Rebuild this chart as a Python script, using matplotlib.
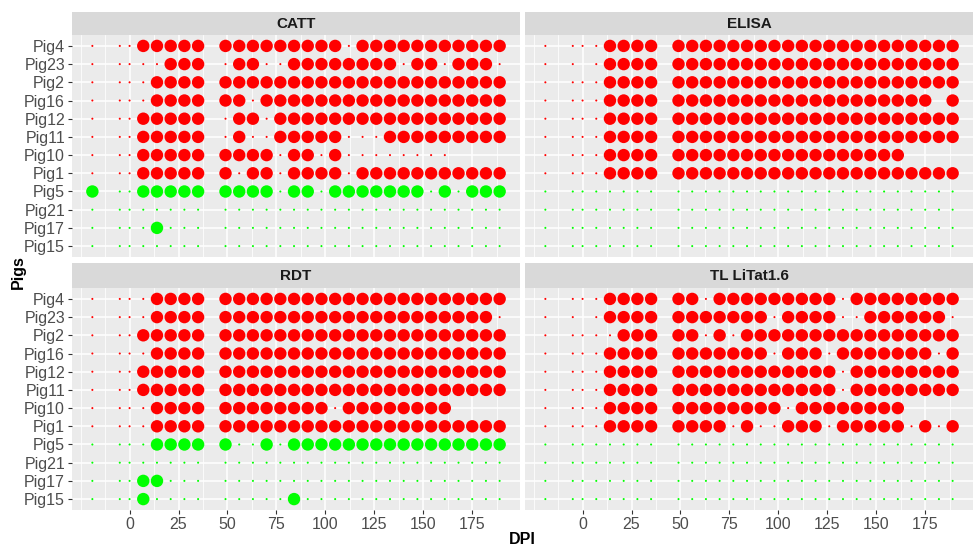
import matplotlib
matplotlib.use("Agg")
import matplotlib.pyplot as plt
from matplotlib.ticker import FixedLocator

plt.rcParams['font.family'] = ['Liberation Sans', 'DejaVu Sans']

# sampling days (DPI)
days = [-19, -5, 0, 7, 14, 21, 28, 35, 49, 56, 63, 70, 77, 84, 91, 98,
        105, 112, 119, 126, 133, 140, 147, 154, 161, 168, 175, 182, 189]

pigs = ["Pig4", "Pig23", "Pig2", "Pig16", "Pig12", "Pig11", "Pig10",
        "Pig1", "Pig5", "Pig21", "Pig17", "Pig15"]
controls = ["Pig5", "Pig21", "Pig17", "Pig15"]

# one string per pig, one char per day: '+' positive, '.' negative, ' ' no sample
catt = [
    "...+++++" + "+++++++++" + "." + "+++++++++++",
    ".....+++" + ".++.." + "++++++++" + ".++.+++.",
    "....++++" + "+++++++++++++++++++++",
    "....++++" + "++." + "++++++++++++++++++",
    "...+++++" + ".++." + "+++++++++++++++++",
    "...+++++" + ".+.." + "+++++" + "..." + "+++++++++",
    "...+++++" + "++++.++.+" + "........" + "    ",
    "...+++++" + "+.++." + "++++" + "." + "+++++++++++",
    "+..+++++" + "++++.++." + "+++++++" + ".+." + "+++",
    "." * 29,
    "....+" + "." * 24,
    "." * 29,
]

elisa = [
    "....++++" + "+" * 21,
    ".. .++++" + "+" * 21,
    "....++++" + "+" * 21,
    "....++++" + "+" * 19 + " +",
    "....++++" + "+" * 21,
    "....++++" + "+" * 21,
    "....++++" + "+" * 17 + "    ",
    "....++++" + "+" * 21,
    "." * 29,
    "." * 29,
    "." * 29,
    "." * 29,
]

rdt = [
    "....++++" + "+" * 21,
    "....++++" + "+" * 20 + ".",
    "...+++++" + "+" * 21,
    "....++++" + "+" * 21,
    "...+++++" + "+" * 21,
    "...+++++" + "+" * 21,
    "....++++" + "++++++++" + "." + "++++++++" + "    ",
    "....++++" + "+" * 21,
    "....++++" + "+..+." + "+" * 16,
    "." * 29,
    "...++" + "." * 24,
    "...+" + "." * 9 + "+" + "." * 15,
]

tl = [
    "....++++" + "++." + "+++++++++" + "." + "++++++++",
    ".. .++++" + "+++++++" + "." + "++++" + ".." + "++++++" + ".",
    ".....+++" + "++.+." + "+" * 16,
    "....++++" + "+++++++" + "." + "+++" + "." + "+++++++" + "." + "+",
    "....++++" + "+" * 12 + "." + "+" * 8,
    "....++++" + "+" * 12 + "." + "+" * 8,
    "....++++" + "+" * 8 + "." + "+" * 8 + "    ",
    "....++++" + "++++" + "." + "+" + ".." + "+++" + "." + "+++++" + "." + "+" + "." + "+",
    "." * 29,
    "." * 29,
    "." * 29,
    "." * 29,
]

W, H = 974, 549
fig = plt.figure(figsize=(W / 100, H / 100), dpi=100)

def fx(px):
    return px / W

def fy(py):
    return 1 - py / H

panels = [
    ("CATT", catt, 72, 520, 35, 257, 12),
    ("ELISA", elisa, 525, 973, 35, 257, 12),
    ("RDT", rdt, 72, 520, 288, 510, 263),
    ("TL LiTat1.6", tl, 525, 973, 288, 510, 263),
]

n = len(pigs)
for k, (title, rows, x0, x1, y0, y1, s0) in enumerate(panels):
    ax = fig.add_axes([fx(x0), fy(y1), fx(x1) - fx(x0), fy(y0) - fy(y1)])
    ax.set_facecolor('#EBEBEB')
    xs, ys, ss, cs = [], [], [], []
    for i, pig in enumerate(pigs):
        col = '#00FF00' if pig in controls else '#FF0000'
        for j, c in enumerate(rows[i]):
            if c == ' ':
                continue
            xs.append(days[j])
            ys.append(n - 1 - i)
            ss.append(80 if c == '+' else 2.2)
            cs.append(col)
    ax.scatter(xs, ys, s=ss, c=cs, edgecolors='none', zorder=3)

    ax.set_xlim(-29.4, 199.4)
    ax.set_ylim(-0.6, n - 0.4)
    ax.set_xticks(range(0, 176, 25))
    ax.xaxis.set_minor_locator(FixedLocator([-25, -12.5] + [12.5 + 25 * m for m in range(8)]))
    ax.set_yticks(range(n))
    ax.set_yticklabels(pigs[::-1])
    ax.set_axisbelow(True)
    ax.grid(which='major', color='white', lw=1.1)
    ax.grid(which='minor', axis='x', color='white', lw=0.55)
    for sp in ax.spines.values():
        sp.set_visible(False)
    ax.tick_params(which='minor', length=0)
    ax.tick_params(which='major', length=3, width=0.8, color='#333333',
                   labelsize=11.5, labelcolor='#4D4D4D', pad=2)
    if k % 2 == 1:
        ax.tick_params(left=False, labelleft=False)
    if k < 2:
        ax.tick_params(bottom=False, labelbottom=False)

    st = fig.add_axes([fx(x0), fy(y0), fx(x1) - fx(x0), fy(s0) - fy(y0)])
    st.set_facecolor('#D9D9D9')
    st.set_xticks([])
    st.set_yticks([])
    for sp in st.spines.values():
        sp.set_visible(False)
    st.text(0.5, 0.5, title, ha='center', va='center', fontsize=11,
            fontweight='bold', color='#1A1A1A', transform=st.transAxes)

fig.text(fx(522.5), fy(540), "DPI", ha='center', va='center', fontsize=11.5,
         fontweight='bold')
fig.text(fx(18), fy(272.5), "Pigs", ha='center', va='center', fontsize=11.5,
         fontweight='bold', rotation=90)

plt.savefig('out.png', dpi=100)
